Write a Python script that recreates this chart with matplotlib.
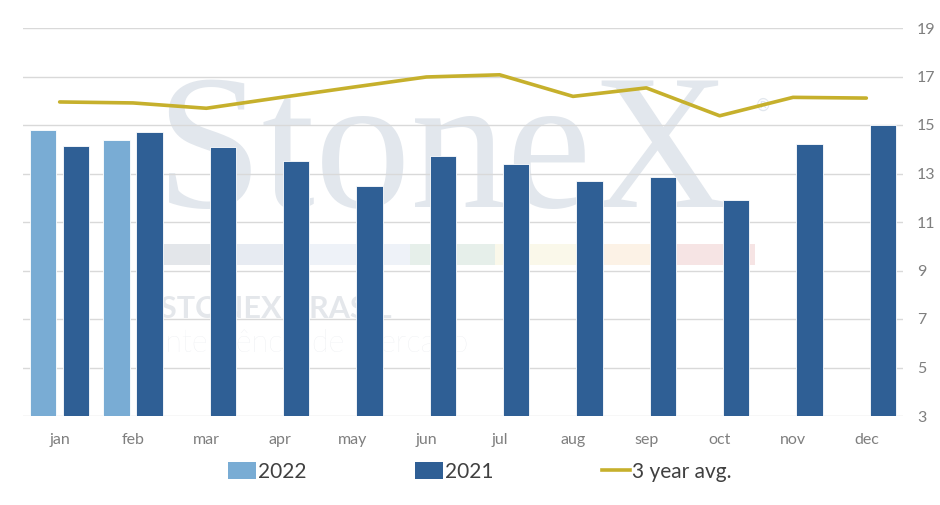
import matplotlib
matplotlib.use("Agg")
import matplotlib.pyplot as plt
from matplotlib.patches import Patch, Rectangle
from matplotlib.lines import Line2D
import numpy as np

months = ["jan", "feb", "mar", "apr", "may", "jun", "jul", "aug", "sep", "oct", "nov", "dec"]
v2022 = [14.79, 14.37]
v2021 = [14.15, 14.70, 14.11, 13.50, 12.50, 13.73, 13.39, 12.70, 12.84, 11.89, 14.23, 15.00]
avg3 = [15.95, 15.91, 15.69, 16.13, 16.56, 16.98, 17.07, 16.18, 16.53, 15.38, 16.14, 16.11]
yticks = [3, 5, 7, 9, 11, 13, 15, 17, 19]

c2022 = "#79acd4"
c2021 = "#2f5f95"
cavg = "#c6b02c"
W, H = 940, 505

fig = plt.figure(figsize=(9.4, 5.05), dpi=100)
fig.patch.set_facecolor("white")
ax = fig.add_axes([23 / W, 1 - 416 / H, (903 - 23) / W, (416 - 28) / H])
ax.set_facecolor("white")

def fx(px):
    return px / W

def fy(py):
    return 1 - py / H

# watermark
wm = "#e2e7ed"
ax.text(fx(155), fy(207), "StoneX", transform=fig.transFigure, fontsize=138,
        family="Liberation Serif", color=wm, zorder=0.3, ha="left", va="baseline")
ax.text(fx(763), fy(106), "®", transform=fig.transFigure, fontsize=12,
        family="DejaVu Sans", color=wm, zorder=0.3, ha="center", va="center")
strip = [(160, 222, "#e3e6ea"), (222, 297, "#e7ebf2"), (297, 410, "#eef2f8"),
         (410, 495, "#e6efea"), (495, 600, "#faf8ea"), (600, 672, "#fcf2e6"),
         (672, 755, "#f6e4e4")]
for x0, x1, c in strip:
    ax.add_artist(Rectangle((fx(x0), fy(265)), (x1 - x0) / W, 21 / H,
                            transform=fig.transFigure, facecolor=c, edgecolor="none",
                            zorder=0.3))
ax.text(fx(160), fy(318), "STONEX BRASIL", transform=fig.transFigure, fontsize=22,
        family="Lato", weight="bold", color="#e4e7eb", zorder=0.3, ha="left", va="baseline")
ax.text(fx(158), fy(352), "Inteligência de Mercado", transform=fig.transFigure, fontsize=22,
        family="Lato", weight="light", color="#e8eaee", zorder=0.3, ha="left", va="baseline")

x = np.arange(len(months))
bw = 0.36
off = 0.225
ax.bar(x[:len(v2022)] - off, v2022, width=bw, bottom=0, color=c2022, edgecolor="white",
       linewidth=0.6, zorder=2)
ax.bar(x + off, v2021, width=bw, color=c2021, edgecolor="white", linewidth=0.6, zorder=2)
ax.plot(x, avg3, color=cavg, linewidth=2.6, zorder=3, solid_joinstyle="round",
        solid_capstyle="round")

ax.set_xlim(-0.5, len(months) - 0.5)
ax.set_ylim(3, 19)
ax.set_yticks(yticks)
ax.yaxis.tick_right()
ax.set_xticks(x)
ax.set_xticklabels(months)
ax.tick_params(axis="both", length=0, labelsize=11.5, labelcolor="#7f7f7f",
               labelfontfamily="Lato")
ax.tick_params(axis="x", pad=12)
ax.tick_params(axis="y", pad=10)
ax.grid(axis="y", color="#d9d9d9", linewidth=1.0, zorder=1)
ax.set_axisbelow(True)
for s in ax.spines.values():
    s.set_visible(False)

handles = [Patch(facecolor=c2022, edgecolor="none"),
           Patch(facecolor=c2021, edgecolor="none"),
           Line2D([0], [0], color=cavg, linewidth=2.6)]
fig.legend(handles, ["2022", "2021", "3 year avg."], loc="center",
           bbox_to_anchor=(fx(480), fy(472)), ncol=3, frameon=False,
           prop={"family": "Lato", "size": 15}, labelcolor="#404040",
           handlelength=1.35, handleheight=0.9, handletextpad=0.1, columnspacing=5.2)

fig.savefig("out.png", dpi=100, facecolor="white")
